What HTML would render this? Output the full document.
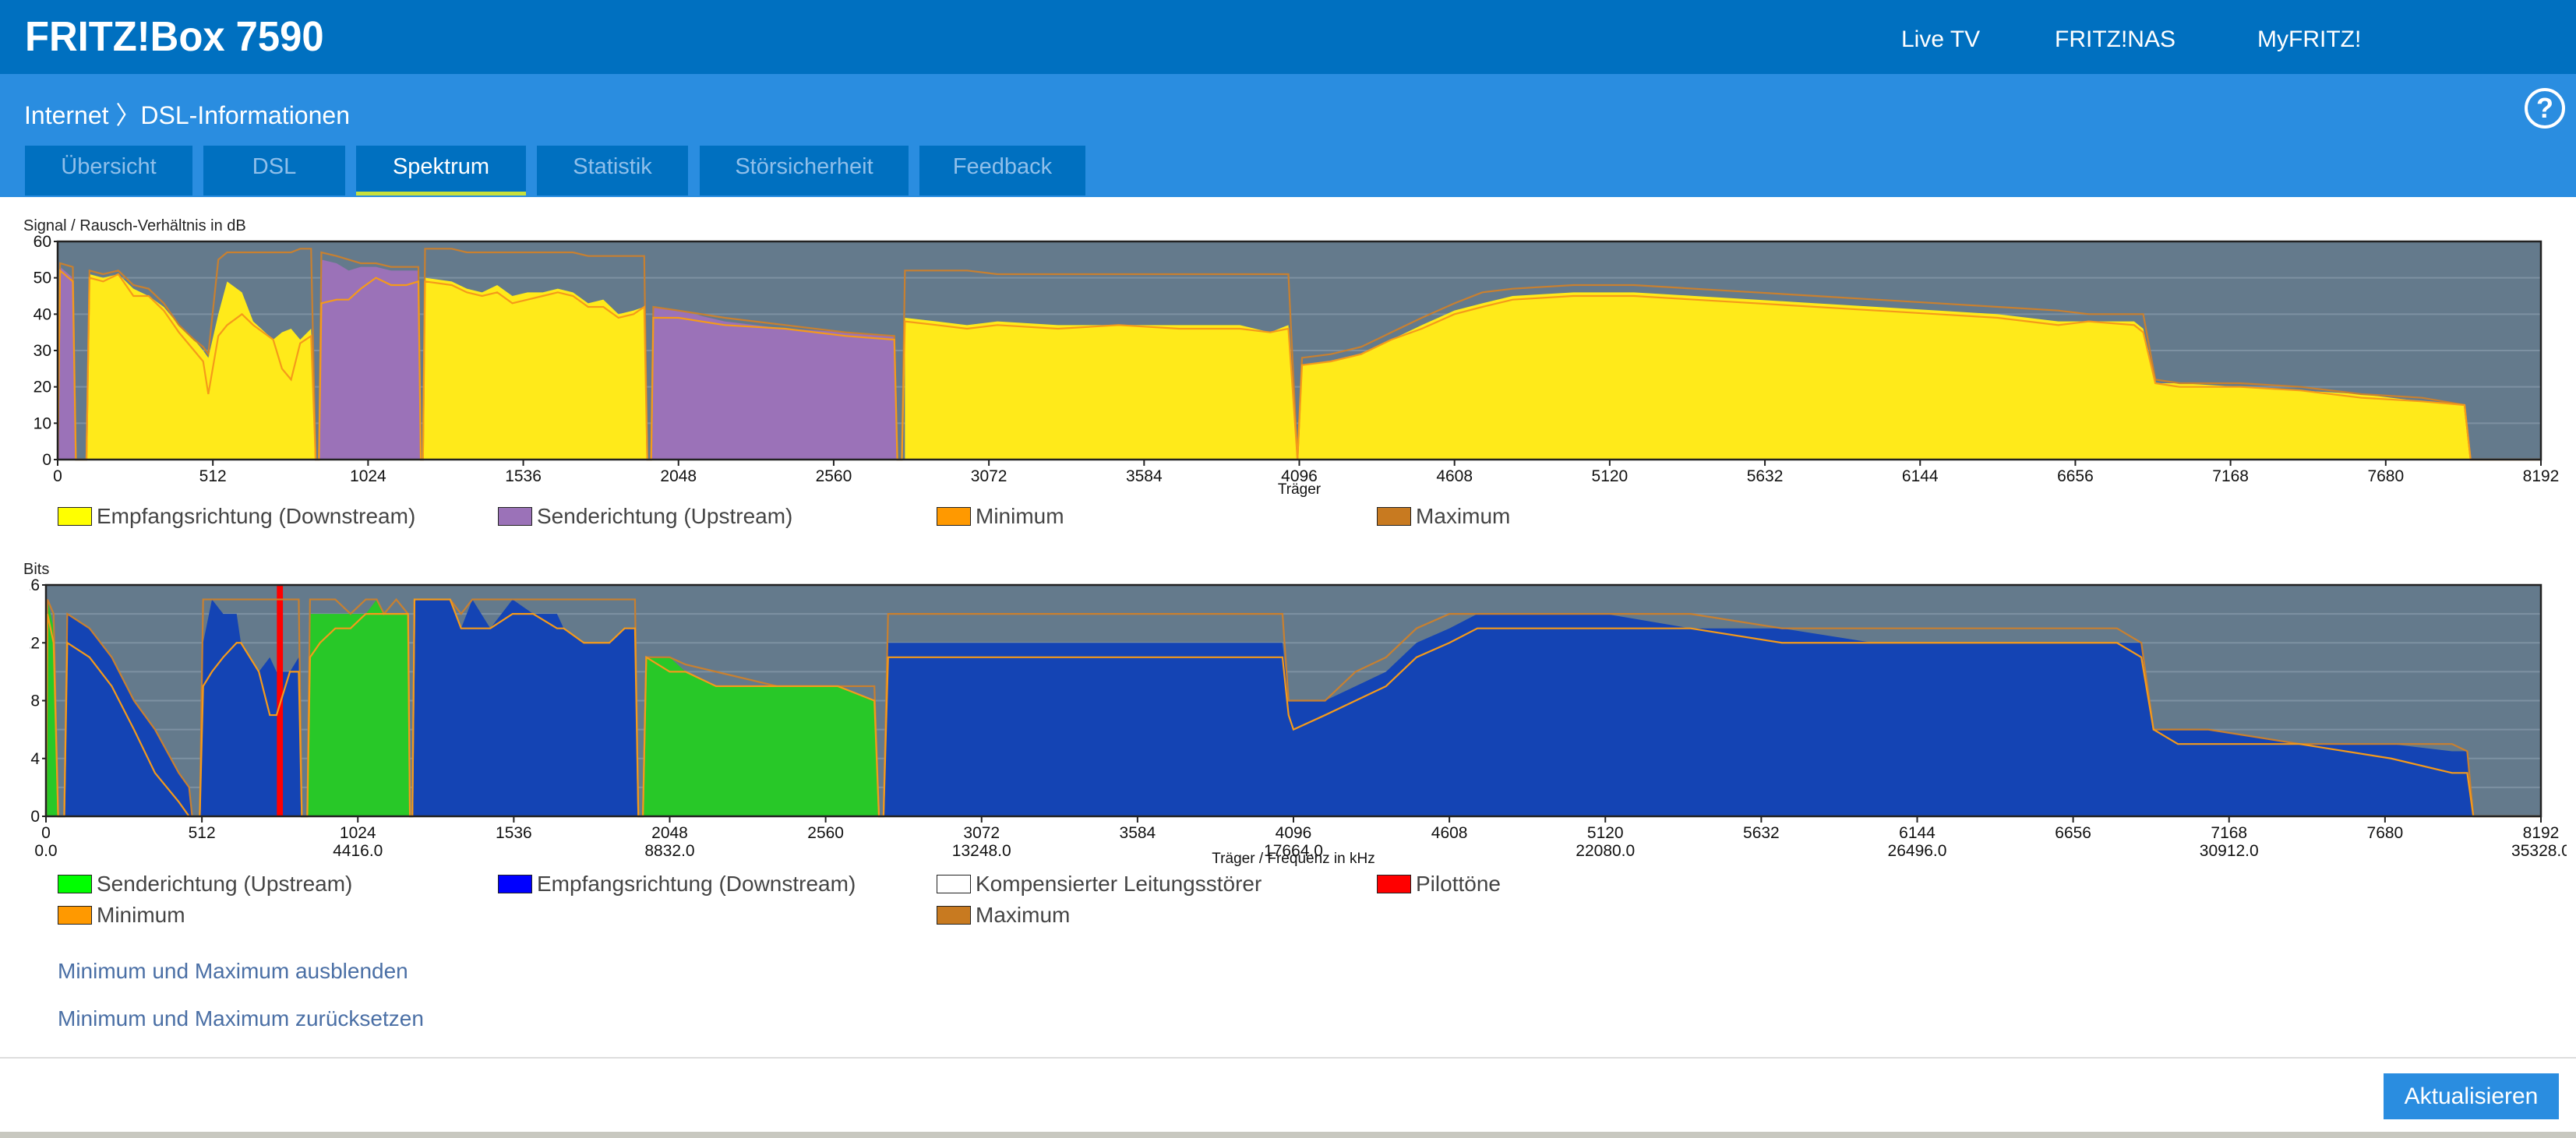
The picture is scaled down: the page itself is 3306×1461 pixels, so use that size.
<!DOCTYPE html>
<html><head><meta charset="utf-8">
<style>
*{margin:0;padding:0;box-sizing:border-box}
body{width:3306px;height:1461px;background:#fff;font-family:"Liberation Sans",sans-serif;position:relative;overflow:hidden;color:#444}
.abs{position:absolute}
#topbar{left:0;top:0;width:3306px;height:95px;background:#0070c0}
#title{left:32px;top:16px;font-size:54px;font-weight:bold;color:#fff;transform:scaleX(0.94);transform-origin:left}
.nav{top:34px;font-size:30px;color:#fff}
#band{left:0;top:95px;width:3306px;height:158px;background:#2a8de0}
#crumb{left:31px;top:123px;font-size:32px;color:#fff}
.tab{top:187px;height:64px;background:#0070c0;color:#8fbfea;font-size:29px;text-align:center;line-height:54px}
.tab.active{color:#fff;border-bottom:5px solid #c8e03c}
#help{left:3240px;top:113px;width:52px;height:52px;border:4px solid #fff;border-radius:50%;color:#fff;font-size:36px;font-weight:bold;text-align:center;line-height:44px}
.ctitle{font-size:20px;color:#222}
.leg{font-size:28px;color:#444;white-space:nowrap}
.leg span.box{display:inline-block;width:44px;height:24px;border:1.5px solid #222;vertical-align:-3px;margin-right:6px}
.link{left:74px;font-size:28px;color:#4a6fa5}
#sep{left:0;top:1357px;width:3306px;height:2px;background:#ddd}
#btn{left:3059px;top:1378px;width:225px;height:59px;background:#2a8de0;color:#fff;font-size:30px;text-align:center;line-height:59px}
#bottom{left:0;top:1453px;width:3306px;height:8px;background:#c8c8c0}
</style></head><body>
<div class="abs" id="topbar"></div>
<div class="abs" id="title">FRITZ!Box 7590</div>
<div class="abs nav" style="left:2440px">Live TV</div>
<div class="abs nav" style="left:2637px">FRITZ!NAS</div>
<div class="abs nav" style="left:2897px">MyFRITZ!</div>
<div class="abs" id="band"></div>
<div class="abs" id="crumb">Internet 〉DSL-Informationen</div>
<div class="abs" id="help">?</div>
<div class="abs tab" style="left:32px;width:215px">Übersicht</div>
<div class="abs tab" style="left:261px;width:182px">DSL</div>
<div class="abs tab active" style="left:457px;width:218px">Spektrum</div>
<div class="abs tab" style="left:689px;width:194px">Statistik</div>
<div class="abs tab" style="left:898px;width:268px">Störsicherheit</div>
<div class="abs tab" style="left:1180px;width:213px">Feedback</div>

<div class="abs ctitle" style="left:30px;top:279px">Signal / Rausch-Verhältnis in dB</div>
<svg class="abs" id="snr" style="left:0;top:290px" width="3306" height="350"></svg>
<div class="abs leg" style="left:74px;top:647px"><span class="box" style="background:#ffff00"></span>Empfangsrichtung (Downstream)</div>
<div class="abs leg" style="left:639px;top:647px"><span class="box" style="background:#9b72b8"></span>Senderichtung (Upstream)</div>
<div class="abs leg" style="left:1202px;top:647px"><span class="box" style="background:#ff9900"></span>Minimum</div>
<div class="abs leg" style="left:1767px;top:647px"><span class="box" style="background:#c87a20"></span>Maximum</div>

<div class="abs ctitle" style="left:30px;top:720px">Bits</div>
<svg class="abs" id="bits" style="left:38px;top:735px" width="3256" height="380"></svg>
<div class="abs leg" style="left:74px;top:1119px"><span class="box" style="background:#00ff00"></span>Senderichtung (Upstream)</div>
<div class="abs leg" style="left:639px;top:1119px"><span class="box" style="background:#0000ff"></span>Empfangsrichtung (Downstream)</div>
<div class="abs leg" style="left:1202px;top:1119px"><span class="box" style="background:#fff"></span>Kompensierter Leitungsstörer</div>
<div class="abs leg" style="left:1767px;top:1119px"><span class="box" style="background:#ff0000"></span>Pilottöne</div>
<div class="abs leg" style="left:74px;top:1159px"><span class="box" style="background:#ff9900"></span>Minimum</div>
<div class="abs leg" style="left:1202px;top:1159px"><span class="box" style="background:#c87a20"></span>Maximum</div>

<div class="abs link" style="top:1231px">Minimum und Maximum ausblenden</div>
<div class="abs link" style="top:1292px">Minimum und Maximum zurücksetzen</div>
<div class="abs" id="sep"></div>
<div class="abs" id="btn">Aktualisieren</div>
<div class="abs" id="bottom"></div>

<script>
const xTicks=[0,512,1024,1536,2048,2560,3072,3584,4096,4608,5120,5632,6144,6656,7168,7680,8192];
const kHzTicks=["0.0","4416.0","8832.0","13248.0","17664.0","22080.0","26496.0","30912.0","35328.0"];
const snrYTicks=[0,10,20,30,40,50,60];
const bitsYTicks=[0,4,8,12,16];

const snrCarriers=[0,8,50,60,95,105,150,200,250,300,350,400,450,480,497,530,559,608,645,711,740,770,800,836,851,862,870,920,960,1000,1050,1100,1150,1190,1198,1205,1212,1300,1350,1400,1450,1500,1550,1600,1650,1700,1750,1800,1850,1900,1935,1945,1958,1965,2048,2200,2400,2600,2760,2770,2785,2795,2900,3000,3100,3300,3500,3700,3900,4000,4060,4090,4105,4200,4300,4400,4500,4608,4700,4800,5000,5200,5400,5600,5800,6000,6200,6400,6600,6700,6850,6880,6920,7000,7200,7400,7600,7800,7940,7960,8192];
const snrValues=[0,53,50,0,0,51,50,51,47,45,42,37,33,30,28,40,49,46,38,33,35,36,33,36,0,0,55,54,52,53,53,52,52,52,0,0,50,49,47,46,48,45,46,46,47,46,43,44,40,41,42,0,0,42,41,38,36,35,34,0,0,39,38,37,38,37,37,37,37,35,37,0,26,27,29,33,37,41,43,45,46,46,45,44,43,42,41,40,38,38,38,36,21,21,20,19,18,16,15,0,0];
const snrMin=[0,52,49,0,0,50,49,51,45,45,41,35,30,27,18,34,37,40,37,33,25,22,32,34,0,0,43,44,44,47,50,48,48,49,0,0,49,48,46,45,46,43,44,45,46,45,42,42,39,40,42,0,0,39,39,37,36,34,33,0,0,38,37,36,37,36,37,36,36,35,36,0,26,27,29,33,36,40,42,44,45,45,44,43,42,41,40,39,37,38,37,35,21,20,20,19,17,16,15,0,0];
const snrMax=[0,54,53,0,0,52,51,52,48,47,43,37,33,31,29,55,57,57,57,57,57,57,58,58,0,0,57,56,55,54,54,53,53,53,0,0,58,58,57,57,57,57,57,57,57,57,56,56,56,56,56,0,0,42,41,39,37,35,34,0,0,52,52,52,51,51,51,51,51,51,51,0,28,29,31,35,39,43,46,47,48,48,47,46,45,44,43,42,41,40,40,40,22,21,21,20,18,17,15,0,0];
const snrDir="UUUUDDDDDDDDDDDDDDDDDDDDDUUUUUUUUUUDDDDDDDDDDDDDDDDDUUUUUUUUUDDDDDDDDDDDDDDDDDDDDDDDDDDDDDDDDDDDDDDDDDDDDDD";

const bitsCarriers=[0,5,25,40,60,70,143,216,289,358,436,470,480,505,516,545,582,626,640,699,735,757,801,830,840,858,867,900,950,1000,1050,1086,1110,1150,1189,1195,1203,1210,1327,1363,1400,1459,1532,1600,1678,1700,1766,1850,1900,1934,1945,1960,1971,2048,2100,2200,2400,2600,2720,2735,2750,2765,2900,3100,3300,3500,3700,3900,4060,4080,4096,4200,4300,4400,4500,4608,4700,4900,5120,5400,5700,6000,6400,6800,6880,6920,7000,7100,7400,7700,7900,7950,7970,8192];
const bitsValues=[0,15,13,0,0,14,13,11,8,6,3,2,0,0,12,15,14,14,12,10,11,10,10,11,0,0,14,14,14,14,14,15,14,14,14,0,0,15,15,13,15,13,15,14,14,13,12,12,13,13,0,0,11,11,10,9,9,9,8,0,0,12,12,12,12,12,12,12,12,8,8,8,9,10,12,13,14,14,14,13,13,12,12,12,12,6,6,6,5,5,4.5,4.5,0,0];
const bitsMin=[0,14,12,0,0,12,11,9,6,3,1,0,0,0,9,10,11,12,12,10,7,7,10,10,0,0,11,12,13,13,14,14,14,14,14,0,0,15,15,13,13,13,14,14,13,13,12,12,13,13,0,0,11,10,10,9,9,9,8,0,0,11,11,11,11,11,11,11,11,7,6,7,8,9,11,12,13,13,13,13,12,12,12,12,11,6,5,5,5,4,3,3,0,0];
const bitsMax=[0,15,14,0,0,14,13,11,8,6,3,2,0,0,15,15,15,15,15,15,15,15,15,15,0,0,15,15,15,14,15,15,14,15,14,0,0,15,15,14,15,15,15,15,15,15,15,15,15,15,0,0,11,11,10.5,10,9,9,9,0,0,14,14,14,14,14,14,14,14,8,8,8,10,11,13,14,14,14,14,14,13,13,13,13,12,6,6,6,5,5,5,4.5,0,0];
const bitsDir="UUUUDDDDDDDDDDDDDDDDDDDDDUUUUUUUUUUUDDDDDDDDDDDDDDDUUUUUUUUUDDDDDDDDDDDDDDDDDDDDDDDDDDDDDDDDD";
const pilotCarriers=[768];

const NS="http://www.w3.org/2000/svg";
function mk(parent,tag,attrs){const e=document.createElementNS(NS,tag);for(const k in attrs)e.setAttribute(k,attrs[k]);parent.appendChild(e);return e;}

function drawChart(svg,off,cfg){
  const g=mk(svg,'g',{transform:'translate('+(-off.x)+','+(-off.y)+')'});
  const L=cfg.left,R=cfg.right,T=cfg.top,B=cfg.bottom;
  const xs=c=>L+(c/8192)*(R-L);
  const ys=v=>B-(v/cfg.ymax)*(B-T);
  const bg=mk(g,'rect',{x:L,y:T,width:R-L,height:B-T,fill:'#647a8c'});
  
  
  for(let v=cfg.gridStep;v<cfg.ymax;v+=cfg.gridStep){
    const gl=mk(g,'line',{x1:L,x2:R,y1:ys(v),y2:ys(v),stroke:'#7d91a2','stroke-width':2});
    
    
  }
  const C=cfg.carriers,V=cfg.values,D=cfg.dir;
  let i=0;
  while(i<C.length){
    let j=i;while(j+1<C.length&&D[j+1]===D[i])j++;
    let pts=xs(C[i])+','+ys(0)+' ';
    for(let k=i;k<=j;k++)pts+=xs(C[k])+','+ys(V[k])+' ';
    pts+=xs(C[j])+','+ys(0);
    const p=mk(g,'polygon',{points:pts,fill:D[i]==='U'?cfg.upColor:cfg.downColor});
    
    
    i=j+1;
  }
  if(cfg.pilots){cfg.pilots.forEach(c=>{
    const r=mk(g,'rect',{x:xs(c-10),y:T,width:xs(20)-xs(0),height:B-T,fill:'#ff0000'});
    
    
  });}
  const lineOf=(arr,color,name)=>{
    const pts=C.map((c,k)=>xs(c)+','+ys(arr[k])).join(' ');
    const pl=mk(g,'polyline',{points:pts,fill:'none',stroke:color,'stroke-width':2.2});
    
    
  };
  lineOf(cfg.max,'#c88030','maximum-line');
  lineOf(cfg.min,'#f59a1a','minimum-line');
  const ax=mk(g,'path',{d:'M'+L+','+T+'H'+R+'V'+B+'H'+L+'Z',fill:'none',stroke:'#222','stroke-width':2.5});
  
  
  cfg.yTicks.forEach(v=>{
    const t=mk(g,'text',{x:L-8,y:ys(v)+7,'text-anchor':'end','font-size':21,fill:'#111','font-family':'Liberation Sans, sans-serif'});
    t.textContent=v;
    
    
    mk(g,'line',{x1:L-5,x2:L,y1:ys(v),y2:ys(v),stroke:'#222','stroke-width':2});
  });
  xTicks.forEach((c,k)=>{
    mk(g,'line',{x1:xs(c),x2:xs(c),y1:B,y2:B+8,stroke:'#222','stroke-width':2});
    const t=mk(g,'text',{x:xs(c),y:B+28,'text-anchor':'middle','font-size':21,fill:'#111','font-family':'Liberation Sans, sans-serif'});
    t.textContent=c;
    
    
    if(cfg.khz&&k%2===0){
      const t2=mk(g,'text',{x:xs(c),y:B+51,'text-anchor':'middle','font-size':21,fill:'#111','font-family':'Liberation Sans, sans-serif'});
      t2.textContent=kHzTicks[k/2];
      
      
    }
  });
  const at=mk(g,'text',{x:(L+R)/2,y:B+cfg.titleDy,'text-anchor':'middle','font-size':19,fill:'#111','font-family':'Liberation Sans, sans-serif'});
  at.textContent=cfg.xTitle;
  
  
}

drawChart(document.getElementById('snr'),{x:0,y:290},{left:74,right:3261,top:310,bottom:590,ymax:60,gridStep:10,
  carriers:snrCarriers,values:snrValues,min:snrMin,max:snrMax,dir:snrDir,upColor:'#9b72b8',downColor:'#ffea1a',
  yTicks:snrYTicks,xTitle:'Träger',titleDy:44});
drawChart(document.getElementById('bits'),{x:38,y:735},{left:59,right:3261,top:751,bottom:1048,ymax:16,gridStep:2,
  carriers:bitsCarriers,values:bitsValues,min:bitsMin,max:bitsMax,dir:bitsDir,upColor:'#28c828',downColor:'#1444b4',
  pilots:pilotCarriers,yTicks:bitsYTicks,xTitle:'Träger / Frequenz in kHz',titleDy:60,khz:true});
</script>
</body></html>
